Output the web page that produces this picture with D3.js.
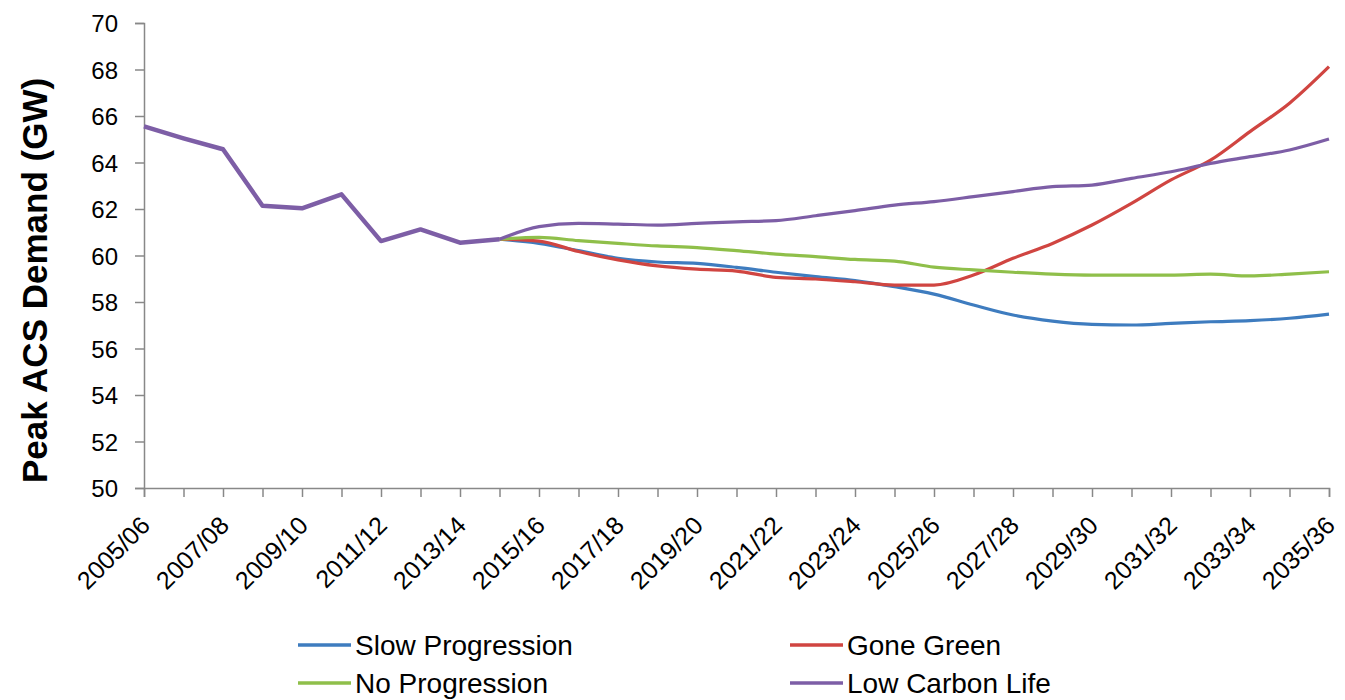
<!DOCTYPE html>
<html>
<head>
<meta charset="utf-8">
<script src="https://cdn.jsdelivr.net/npm/d3@7"></script>
<style>
  body { margin: 0; background: #fff; }
  text { font-family: "Liberation Sans", Arial, sans-serif; fill: #000; }
</style>
</head>
<body>
<script>
// categories (financial years)
const years = ["2005/06","2006/07","2007/08","2008/09","2009/10","2010/11","2011/12","2012/13",
  "2013/14","2014/15","2015/16","2016/17","2017/18","2018/19","2019/20","2020/21","2021/22",
  "2022/23","2023/24","2024/25","2025/26","2026/27","2027/28","2028/29","2029/30","2030/31",
  "2031/32","2032/33","2033/34","2034/35","2035/36"];

// historic values shared by all scenarios, up to 2014/15
const history = [65.55, 65.04, 64.57, 62.14, 62.03, 62.63, 60.62, 61.12, 60.55, 60.7];

// scenario values from 2015/16 onwards
const slowProgression = [60.52, 60.21, 59.88, 59.72, 59.66, 59.49, 59.28, 59.09, 58.92, 58.66,
  58.34, 57.87, 57.44, 57.18, 57.04, 57.01, 57.08, 57.15, 57.2, 57.3, 57.48];
const goneGreen = [60.62, 60.17, 59.81, 59.55, 59.41, 59.33, 59.06, 58.99, 58.87, 58.73,
  58.73, 59.16, 59.88, 60.52, 61.31, 62.24, 63.25, 64.1, 65.33, 66.55, 68.12];
const noProgression = [60.78, 60.64, 60.52, 60.41, 60.34, 60.21, 60.06, 59.95, 59.83, 59.76,
  59.5, 59.38, 59.28, 59.2, 59.16, 59.16, 59.16, 59.2, 59.12, 59.2, 59.3];
const lowCarbonLife = [61.24, 61.38, 61.35, 61.31, 61.38, 61.45, 61.5, 61.71, 61.93, 62.17,
  62.32, 62.53, 62.75, 62.96, 63.03, 63.32, 63.6, 63.96, 64.25, 64.54, 65.01];

const yTicks = [50, 52, 54, 56, 58, 60, 62, 64, 66, 68, 70];

const seriesNames = ["Slow Progression", "Gone Green", "No Progression", "Low Carbon Life"];
const seriesColors = ["#3e7cbf", "#d04541", "#8fbf4a", "#7d5ea6"];

const width = 1345, height = 700;
const margin = { left: 144, right: 16, top: 23, bottom: 212 };

const svg = d3.select("body").append("svg")
  .attr("width", width)
  .attr("height", height);

const x = d3.scalePoint()
  .domain(years)
  .range([margin.left, width - margin.right]);

const y = d3.scaleLinear()
  .domain([50, 70])
  .range([height - margin.bottom, margin.top]);

// each scenario starts from the last historic year
const start = history.length - 1;
const scenarioData = [slowProgression, goneGreen, noProgression, lowCarbonLife].map(s =>
  [history[start]].concat(s).map((v, i) => ({ year: years[start + i], value: v })));

// y axis
const yAxis = d3.axisLeft(y).tickValues(yTicks).tickSize(9).tickPadding(17);
const gy = svg.append("g")
  .attr("transform", `translate(${margin.left},0)`)
  .call(yAxis);
gy.select(".domain").attr("stroke", "#888").attr("stroke-width", 1.5);
gy.selectAll(".tick line").attr("stroke", "#888").attr("stroke-width", 1.5);
gy.selectAll(".tick text").style("font-size", "24px").attr("dy", "0.36em");

// x axis
const xAxis = d3.axisBottom(x)
  .tickSize(9)
  .tickFormat((d, i) => i % 2 === 0 ? d : "");
const gx = svg.append("g")
  .attr("transform", `translate(0,${height - margin.bottom})`)
  .call(xAxis);
gx.select(".domain").attr("stroke", "#888").attr("stroke-width", 1.5);
gx.selectAll(".tick line").attr("stroke", "#888").attr("stroke-width", 1.5);
gx.selectAll(".tick text")
  .style("font-size", "25px")
  .attr("text-anchor", "end")
  .attr("dy", null)
  .attr("y", 0)
  .attr("transform", "translate(7,39) rotate(-45)");

// y axis title
svg.append("text")
  .attr("transform", `translate(47,${(margin.top + height - margin.bottom) / 2 + 25}) rotate(-90)`)
  .attr("text-anchor", "middle")
  .style("font-size", "35px")
  .style("font-weight", "bold")
  .text("Peak ACS Demand (GW)");

// scenario lines
const line = d3.line()
  .x(d => x(d.year))
  .y(d => y(d.value))
  .curve(d3.curveMonotoneX);

svg.append("g")
  .selectAll("path")
  .data(scenarioData)
  .enter()
  .append("path")
  .attr("d", line)
  .attr("fill", "none")
  .attr("stroke", (d, i) => seriesColors[i])
  .attr("stroke-width", 3.2)
  .attr("stroke-linejoin", "round");

// history, thicker, in purple
svg.append("path")
  .datum(history.map((v, i) => ({ year: years[i], value: v })))
  .attr("d", d3.line().x(d => x(d.year)).y(d => y(d.value)))
  .attr("fill", "none")
  .attr("stroke", seriesColors[3])
  .attr("stroke-width", 4.5)
  .attr("stroke-linejoin", "round");

// legend
const legendPos = [[298, 645], [790, 645], [298, 683], [790, 683]];
const legend = svg.append("g").attr("class", "legend")
  .selectAll("g")
  .data(seriesNames)
  .enter()
  .append("g")
  .attr("transform", (d, i) => `translate(${legendPos[i][0]},${legendPos[i][1]})`);

legend.append("line")
  .attr("x1", 0).attr("x2", 53)
  .attr("stroke", (d, i) => seriesColors[i])
  .attr("stroke-width", 3.5);

legend.append("text")
  .attr("x", 57)
  .attr("dy", "0.35em")
  .style("font-size", "28px")
  .text(d => d);
</script>
</body>
</html>
